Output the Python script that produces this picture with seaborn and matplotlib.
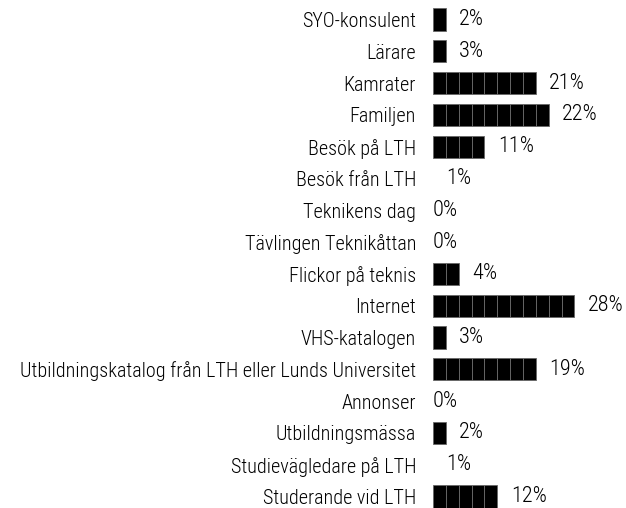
import matplotlib
matplotlib.use('Agg')
import matplotlib.pyplot as plt
import seaborn as sns
import pandas as pd

CATEGORIES = ['SYO-konsulent', 'Lärare', 'Kamrater', 'Familjen', 'Besök på LTH',
              'Besök från LTH', 'Teknikens dag', 'Tävlingen Teknikåttan',
              'Flickor på teknis', 'Internet', 'VHS-katalogen',
              'Utbildningskatalog från LTH eller Lunds Universitet', 'Annonser',
              'Utbildningsmässa', 'Studievägledare på LTH', 'Studerande vid LTH']
PERCENT = [2, 3, 21, 22, 11, 1, 0, 0, 4, 28, 3, 19, 0, 2, 1, 12]
BLOCK = 2.5  # each pictogram block stands for 2.5 %

W, H, DPI = 626, 508, 100
PX_PER_PCT = 5.14
ROW_PX = 31.8
FS_CAT = 14.5
FS_PCT = 16

sns.set_style('white')
plt.rcParams['font.family'] = ['Roboto Condensed', 'DejaVu Sans']
plt.rcParams['font.weight'] = 'light'
plt.rcParams['text.color'] = 'black'
plt.rcParams['ytick.color'] = 'black'

df = pd.DataFrame({'cat': CATEGORIES, 'pct': PERCENT})
df['blocks'] = [round(p / BLOCK) for p in PERCENT]
df['length'] = df['blocks'] * BLOCK

fig = plt.figure(figsize=(W / DPI, H / DPI), dpi=DPI)
left = 433 / W
ax = fig.add_axes([left, 0, 1 - left, 1])

sns.barplot(ax=ax, data=df, x='length', y='cat', orient='h', color='black',
            width=0.7, saturation=1, edgecolor='#666666', linewidth=0.6)

# thin grey separators between the blocks
for n, patch in zip(df['blocks'], ax.patches):
    if n == 0:
        patch.set_linewidth(0)
    y0, h = patch.get_y(), patch.get_height()
    for k in range(1, n):
        ax.vlines(k * BLOCK, y0, y0 + h, color='#777777', linewidth=0.6)

gap = 13.5 / PX_PER_PCT
for i, row in df.iterrows():
    xpos = row['length'] + gap if row['pct'] > 0 else 0
    ax.text(xpos, i, f"{row['pct']}%", va='center', ha='left', fontsize=FS_PCT)

ax.set_xlim(0, (W - 433) / PX_PER_PCT)
ax.set_ylim(15 + (H - 19.5 - 15 * ROW_PX) / ROW_PX, -19.5 / ROW_PX)
ax.set_xlabel('')
ax.set_ylabel('')
ax.set_xticks([])
ax.tick_params(axis='y', length=0, pad=12.2, labelsize=FS_CAT)
sns.despine(ax=ax, left=True, bottom=True)

fig.savefig('out.png', dpi=DPI)
